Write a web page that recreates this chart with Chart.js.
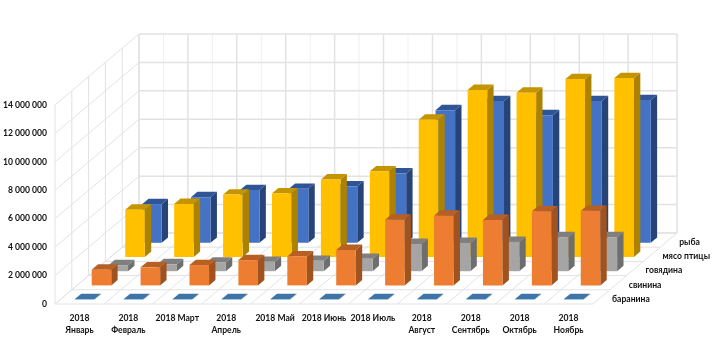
<!DOCTYPE html>
<html>
<head>
<meta charset="utf-8">
<title>Производство мяса и рыбы, 2018</title>
<script src="https://cdn.jsdelivr.net/npm/chart.js@4"></script>
<style>
  html, body { margin: 0; padding: 0; background: #fff; }
  canvas { display: block; }
</style>
</head>
<body>
<canvas id="grafico" width="716" height="351"></canvas>
<script>
// Datos
const months = [
  ["2018", "Январь"], ["2018", "Февраль"], "2018 Март", ["2018", "Апрель"], "2018 Май", "2018 Июнь",
  "2018 Июль", ["2018", "Август"], ["2018", "Сентябрь"], ["2018", "Октябрь"], ["2018", "Ноябрь"]
];
const seriesNames = ["баранина", "свинина", "говядина", "мясо птицы", "рыба"];
const baranina = [40000, 40000, 40000, 40000, 40000, 40000, 40000, 40000, 40000, 40000, 40000];
const svinina = [1100000, 1270000, 1430000, 1780000, 2040000, 2490000, 4620000, 4900000, 4600000, 5210000, 5250000];
const govyadina = [420000, 490000, 610000, 660000, 730000, 870000, 1920000, 1990000, 2060000, 2390000, 2390000];
const myasoPtitsy = [3330000, 3730000, 4390000, 4480000, 5460000, 6030000, 9660000, 11750000, 11560000, 12520000, 12590000];
const ryba = [2720000, 3210000, 3710000, 3800000, 3960000, 4880000, 9330000, 9970000, 8980000, 9970000, 10040000];

const frontColors = ["#5B9BD5", "#ED7D31", "#A5A5A5", "#FFC000", "#4472C4"];
const sideColors = ["#35648F", "#A0521F", "#6E6E6E", "#AC8200", "#264478"];
const topColors = ["#3F74A6", "#B85F24", "#7F7F7F", "#C49500", "#2F5597"];

// Proyección oblicua: desplazamiento de cada fila de profundidad
const slotX = 16.8;
const slotY = 14.2;
const gap = 0.31;
const thick = 0.38;
const wallMajor = "#e2e2e2";
const wallMinor = "#efefef";
const labelFont = "bold 8.6px Lato";

function line(ctx, x1, y1, x2, y2, color, width) {
  ctx.beginPath();
  ctx.moveTo(x1, y1);
  ctx.lineTo(x2, y2);
  ctx.strokeStyle = color;
  ctx.lineWidth = width;
  ctx.stroke();
}

function poly(ctx, pts, color) {
  ctx.beginPath();
  pts.forEach(function (p, i) {
    if (i === 0) ctx.moveTo(p[0], p[1]);
    else ctx.lineTo(p[0], p[1]);
  });
  ctx.closePath();
  ctx.fillStyle = color;
  ctx.fill();
}

// Paredes, suelo y etiquetas de profundidad
const wallsPlugin = {
  id: "walls",
  beforeDatasetsDraw(chart) {
    const ctx = chart.ctx;
    const x = chart.scales.x;
    const y = chart.scales.y;
    const n = seriesNames.length;
    const dx = n * slotX;
    const dy = n * slotY;
    const step = (x.right - x.left) / months.length;
    ctx.save();

    // divisiones menores de la pared del fondo
    for (let i = 0; i < months.length; i++) {
      const mx = x.left + (i + 0.5) * step + dx;
      line(ctx, mx, y.top - dy, mx, y.bottom - dy, wallMinor, 1);
    }
    // columnas de la pared del fondo y líneas del suelo
    for (let i = 0; i <= months.length; i++) {
      const gx = x.left + i * step;
      line(ctx, gx + dx, y.top - dy, gx + dx, y.bottom - dy, wallMajor, 1.5);
      line(ctx, gx, y.bottom, gx + dx, y.bottom - dy, wallMajor, 1);
    }
    // filas de profundidad: pared izquierda y suelo
    for (let d = 0; d <= n; d++) {
      const ox = d * slotX;
      const oy = d * slotY;
      line(ctx, x.left + ox, y.top - oy, x.left + ox, y.bottom - oy, wallMajor, 1);
      line(ctx, x.left + ox, y.bottom - oy, x.right + ox, y.bottom - oy, wallMajor, 1);
    }
    // líneas de valor
    y.ticks.forEach(function (t) {
      const py = y.getPixelForValue(t.value);
      line(ctx, x.left, py, x.left + dx, py - dy, wallMajor, 1);
      line(ctx, x.left + dx, py - dy, x.right + dx, py - dy, wallMajor, 1.5);
    });

    ctx.fillStyle = "#111";
    ctx.font = labelFont;
    ctx.textAlign = "left";
    ctx.textBaseline = "middle";
    seriesNames.forEach(function (name, d) {
      ctx.fillText(name, x.right + 19 + d * slotX, y.bottom - 5 - d * slotY);
    });
    ctx.restore();
  },
  // cada serie se dibuja desplazada a su fila, con caras lateral y superior
  beforeDatasetDraw(chart, args) {
    const ctx = chart.ctx;
    const d = args.index;
    ctx.save();
    ctx.translate((d + gap) * slotX, -(d + gap) * slotY);
    const tx = thick * slotX;
    const ty = thick * slotY;
    args.meta.data.forEach(function (bar) {
      const left = bar.x - bar.width / 2;
      const right = bar.x + bar.width / 2;
      poly(ctx, [[right, bar.y], [right + tx, bar.y - ty], [right + tx, bar.base - ty], [right, bar.base]], sideColors[d]);
      poly(ctx, [[left, bar.y], [left + tx, bar.y - ty], [right + tx, bar.y - ty], [right, bar.y]], topColors[d]);
    });
  },
  afterDatasetDraw(chart) {
    chart.ctx.restore();
  }
};

const allSeries = [baranina, svinina, govyadina, myasoPtitsy, ryba];

new Chart(document.getElementById("grafico").getContext("2d"), {
  type: "bar",
  data: {
    labels: months,
    datasets: allSeries.map(function (values, i) {
      return {
        label: seriesNames[i],
        data: values,
        backgroundColor: frontColors[i],
        borderWidth: 0,
        clip: false
      };
    })
  },
  options: {
    responsive: false,
    animation: false,
    grouped: false,
    barPercentage: 0.4,
    categoryPercentage: 1,
    layout: { padding: { top: 105, right: 123, left: 0, bottom: 0 } },
    plugins: { legend: { display: false }, title: { display: false }, tooltip: { enabled: false } },
    scales: {
      x: {
        grid: { display: false, drawTicks: false },
        border: { display: false },
        afterFit(axis) { axis.height = 47; },
        ticks: {
          autoSkip: false,
          maxRotation: 0,
          minRotation: 0,
          padding: 8,
          color: "#111",
          font: { family: "Lato", size: 8.6, weight: "bold", lineHeight: 1.42 }
        }
      },
      y: {
        min: 0,
        max: 14000000,
        grid: { display: false, drawTicks: false },
        border: { display: false },
        afterFit(axis) { axis.width = 55; },
        ticks: {
          stepSize: 2000000,
          padding: 8,
          color: "#111",
          font: { family: "Lato", size: 8.6, weight: "bold" },
          callback: function (v) {
            return String(v).replace(/\B(?=(\d{3})+$)/g, " ");
          }
        }
      }
    }
  },
  plugins: [wallsPlugin]
});
</script>
</body>
</html>
